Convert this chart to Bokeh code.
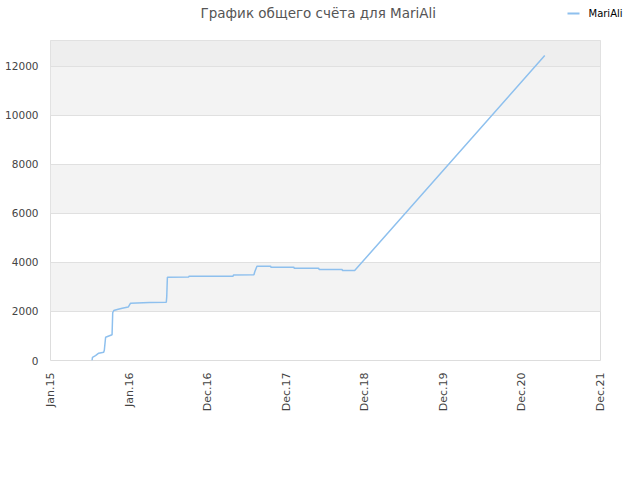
import pandas as pd
from math import pi
from bokeh.plotting import figure
from bokeh.layouts import column
from bokeh.models import (ColumnDataSource, FixedTicker, CustomJSTickFormatter,
                          BoxAnnotation, Range1d, LinearAxis)
from bokeh.core.properties import value
from bokeh.embed import file_html
from bokeh.resources import INLINE

title_text = "График общего счёта для MariAli"
series_name = "MariAli"

dates = ["2015-07-13", "2015-07-15", "2015-07-29", "2015-08-13", "2015-09-05",
         "2015-09-08", "2015-09-14", "2015-10-14", "2015-10-17", "2015-10-22",
         "2015-11-07", "2015-11-30", "2015-12-28", "2016-01-08", "2016-04-05",
         "2016-06-22", "2016-06-24", "2016-06-27", "2016-10-04", "2016-10-06",
         "2017-04-28", "2017-04-30", "2017-08-03", "2017-08-07", "2017-08-17",
         "2017-10-19", "2017-10-21", "2018-02-04", "2018-02-06", "2018-05-31",
         "2018-06-02", "2018-09-17", "2018-09-19", "2018-11-14", "2021-04-15"]
scores = [0, 130, 200, 300, 340,
          420, 950, 1050, 1950, 2040,
          2080, 2130, 2180, 2340, 2370,
          2380, 2600, 3400, 3410, 3440,
          3440, 3490, 3500, 3620, 3850,
          3850, 3810, 3810, 3770, 3770,
          3710, 3710, 3670, 3670, 12450]

x_tick_dates = ["2015-01-01", "2016-01-01", "2016-12-31", "2017-12-31",
                "2018-12-31", "2019-12-31", "2020-12-30", "2021-12-30"]
x_tick_labels = ["Jan.15", "Jan.16", "Dec.16", "Dec.17",
                 "Dec.18", "Dec.19", "Dec.20", "Dec.21"]
y_ticks = [0, 2000, 4000, 6000, 8000, 10000, 12000]
y_max = 13060

LINE_COLOR = "#8ec0ee"
EPOCH = pd.Timestamp("1970-01-01")
FL, FR = 50, 600          # frame left / right in pixels (both figures align)


def ms(d):
    return (pd.Timestamp(d) - EPOCH) / pd.Timedelta("1ms")


# ---------- header (title + legend) ----------
HH = 36
h = figure(width=640, height=HH, output_backend="svg", toolbar_location=None,
           x_range=Range1d(FL, FR), y_range=Range1d(HH, 0),
           min_border_left=FL, min_border_right=640 - FR,
           min_border_top=0, min_border_bottom=0)
h.xaxis.visible = False
h.yaxis.visible = False
h.grid.visible = False
h.outline_line_color = None
h.background_fill_color = "white"
h.border_fill_color = "white"
h.text(x=[200], y=[12], text=[title_text], text_align="left",
       text_baseline="middle", text_font=value("DejaVu Sans"),
       text_font_size="13.5px", text_color="#555555")
h.line(x=[567, 579], y=[13, 13], line_color=LINE_COLOR, line_width=2)

leg_axis = LinearAxis(ticker=FixedTicker(ticks=[13]),
                      formatter=CustomJSTickFormatter(
                          args=dict(name=series_name), code="return name"))
leg_axis.axis_line_color = None
leg_axis.major_tick_line_color = None
leg_axis.minor_tick_line_color = None
leg_axis.major_tick_in = 0
leg_axis.major_tick_out = 0
leg_axis.major_label_standoff = -12
leg_axis.major_label_text_font = "DejaVu Sans"
leg_axis.major_label_text_font_size = "10px"
leg_axis.major_label_text_color = "#000000"
h.add_layout(leg_axis, "right")

# ---------- main chart ----------
src = ColumnDataSource(dict(x=pd.to_datetime(dates), y=scores))

p = figure(width=640, height=480 - HH, output_backend="svg",
           toolbar_location=None, x_axis_type="datetime",
           x_range=Range1d(ms(x_tick_dates[0]), ms(x_tick_dates[-1])),
           y_range=Range1d(0, y_max),
           min_border_left=FL, min_border_right=640 - FR,
           min_border_top=40 - HH, min_border_bottom=120)
p.outline_line_color = "#dddddd"
p.background_fill_color = "white"
p.border_fill_color = "white"

for b, t, c in [(2000, 4000, "#f3f3f3"), (6000, 8000, "#f3f3f3"),
                (10000, 12000, "#f3f3f3"), (12000, y_max, "#eeeeee")]:
    p.add_layout(BoxAnnotation(bottom=b, top=t, fill_color=c, fill_alpha=1,
                               line_color=None, level="image"))

p.xgrid.grid_line_color = None
p.ygrid.grid_line_color = "#e0e0e0"
p.ygrid.ticker = FixedTicker(ticks=y_ticks)

p.yaxis.ticker = FixedTicker(ticks=y_ticks)
p.xaxis.ticker = FixedTicker(ticks=[ms(d) for d in x_tick_dates])
p.xaxis.formatter = CustomJSTickFormatter(args=dict(labels=x_tick_labels),
                                          code="return labels[index]")
p.xaxis.major_label_orientation = pi / 2

for ax in (p.xaxis[0], p.yaxis[0]):
    ax.axis_line_color = None
    ax.major_tick_line_color = None
    ax.minor_tick_line_color = None
    ax.major_tick_in = 0
    ax.major_tick_out = 0
    ax.major_label_text_font = "DejaVu Sans"
    ax.major_label_text_color = "#444444"
    ax.major_label_standoff = 12
p.xaxis.major_label_text_font_size = "11px"
p.yaxis.major_label_text_font_size = "10.5px"

p.line("x", "y", source=src, line_color=LINE_COLOR, line_width=1.5)

layout = column(h, p, spacing=0)
open("out.html", "w").write(file_html(layout, INLINE))
